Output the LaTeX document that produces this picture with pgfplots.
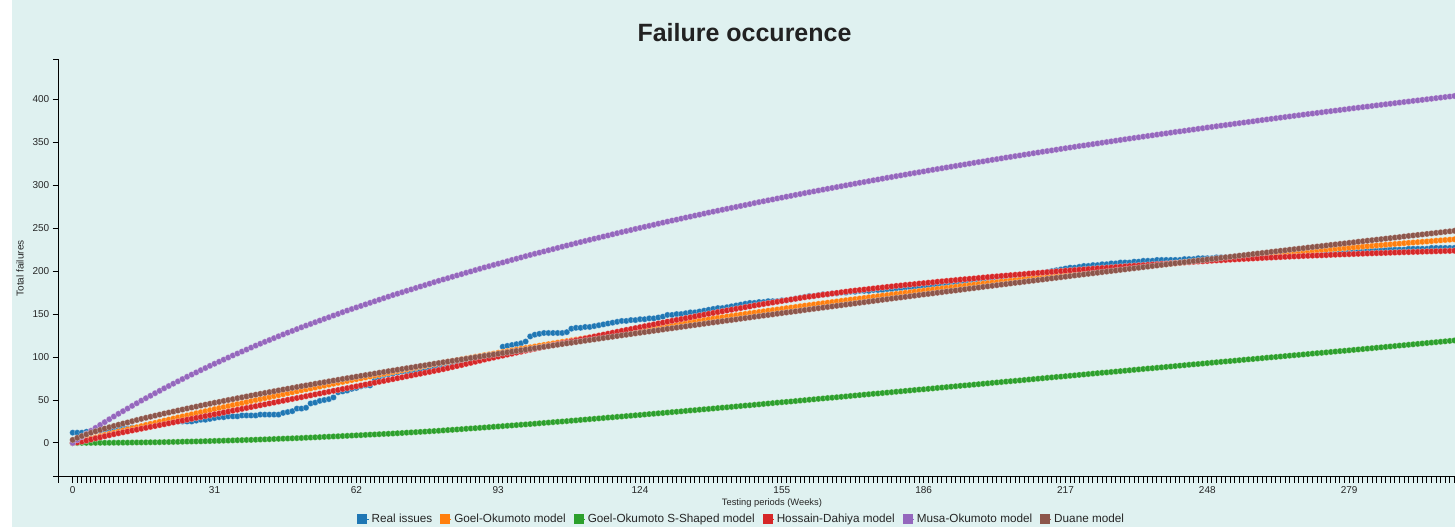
\documentclass[border=0pt]{standalone}
\usepackage{fontspec}
\setmainfont{Liberation Sans}
\usepackage{pgfplots}
\usepackage{pgfplotstable}
\pgfplotsset{compat=1.18}
\definecolor{bg}{RGB}{223,241,240}
\definecolor{c1}{HTML}{1F77B4}
\definecolor{c2}{HTML}{FF7F0E}
\definecolor{c3}{HTML}{2CA02C}
\definecolor{c4}{HTML}{D62728}
\definecolor{c5}{HTML}{9467BD}
\definecolor{c6}{HTML}{8C564B}
\definecolor{txt}{HTML}{222222}
\pgfplotstableread{
t real go gos hd mo du
0 12 0 0 0 0 3.6
1 12 1.3 0 0.6 3.6 6.0
2 12 2.7 0.1 1.6 7.2 8.1
3 13 4.0 0.1 2.8 10.7 10.0
4 13 5.3 0.1 4.1 14.2 11.9
5 14 6.6 0.1 5.4 17.6 13.6
6 14 8.0 0.2 6.6 21.0 15.2
7 15 9.3 0.2 7.8 24.3 16.8
8 15 10.6 0.2 9.0 27.6 18.3
9 16 11.9 0.3 10.2 30.8 19.8
10 16 13.3 0.3 11.3 34.0 21.2
11 17 14.5 0.4 12.4 37.0 22.6
12 17 15.8 0.4 13.4 40.1 23.9
13 18 17.1 0.5 14.5 43.2 25.3
14 18 18.3 0.6 15.5 46.2 26.7
15 19 19.6 0.6 16.6 49.3 28.0
16 21 20.9 0.7 17.6 52.1 29.3
17 22 22.2 0.8 18.7 55.0 30.5
18 22 23.4 0.8 19.7 57.9 31.8
19 23 24.7 0.9 20.8 60.7 33.0
20 24 26.0 1.0 21.8 63.6 34.3
21 24 27.2 1.1 22.9 66.3 35.4
22 25 28.4 1.2 23.9 69.0 36.6
23 25 29.7 1.3 25.0 71.7 37.8
24 25 30.9 1.5 26.0 74.4 38.9
25 25 32.1 1.6 27.1 77.1 40.1
26 25 33.3 1.7 28.1 79.6 41.2
27 26 34.6 1.8 29.2 82.1 42.3
28 27 35.8 1.9 30.2 84.7 43.5
29 27 37.0 2.1 31.3 87.2 44.6
30 28 38.2 2.2 32.3 89.8 45.7
31 29 39.4 2.4 33.4 92.2 46.8
32 30 40.6 2.5 34.4 94.6 47.8
33 30 41.7 2.7 35.5 97.0 48.9
34 31 42.9 2.8 36.5 99.4 50.0
35 31 44.1 3.0 37.6 101.8 51.0
36 31 45.3 3.2 38.6 104.1 52.1
37 32 46.4 3.3 39.7 106.4 53.1
38 32 47.6 3.5 40.7 108.7 54.1
39 32 48.8 3.6 41.8 111.0 55.2
40 32 50.0 3.8 42.8 113.3 56.2
41 33 51.1 4.0 43.9 115.5 57.2
42 33 52.2 4.2 44.9 117.7 58.2
43 33 53.4 4.4 46.0 119.8 59.2
44 33 54.5 4.6 47.0 122.0 60.2
45 33 55.6 4.8 48.1 124.2 61.2
46 35 56.7 5.0 49.1 126.3 62.2
47 36 57.9 5.2 50.2 128.4 63.1
48 37 59.0 5.4 51.2 130.4 64.1
49 40 60.1 5.6 52.3 132.5 65.1
50 40 61.3 5.8 53.3 134.6 66.1
51 41 62.4 6.1 54.4 136.6 67.0
52 46 63.4 6.3 55.4 138.5 67.9
53 47 64.5 6.6 56.5 140.5 68.9
54 49 65.6 6.8 57.5 142.4 69.8
55 50 66.7 7.1 58.6 144.4 70.7
56 51 67.8 7.3 59.6 146.3 71.7
57 53 68.9 7.6 60.7 148.3 72.6
58 59 70.0 7.8 61.7 150.2 73.5
59 60 71.0 8.1 62.8 152.2 74.5
60 61 72.1 8.3 63.8 154.1 75.4
61 63 73.2 8.6 64.9 155.9 76.3
62 64 74.2 8.9 65.9 157.7 77.2
63 66 75.2 9.1 67.0 159.5 78.1
64 67 76.3 9.4 68.0 161.3 79.0
65 67 77.3 9.7 69.1 163.1 79.9
66 73 78.4 9.9 70.1 164.9 80.8
67 77 79.4 10.2 71.2 166.7 81.7
68 79 80.5 10.5 72.2 168.5 82.6
69 80 81.5 10.7 73.3 170.3 83.5
70 81 82.6 11.0 74.3 172.1 84.4
71 82 83.6 11.3 75.4 173.7 85.2
72 83 84.6 11.6 76.4 175.4 86.1
73 83 85.6 12.0 77.5 177.1 87.0
74 84 86.6 12.3 78.5 178.7 87.8
75 84 87.6 12.6 79.6 180.4 88.7
76 85 88.6 12.9 80.6 182.1 89.6
77 86 89.6 13.2 81.7 183.7 90.4
78 87 90.6 13.6 82.7 185.4 91.3
79 88 91.6 13.9 83.8 187.1 92.2
80 89 92.6 14.2 84.8 188.7 93.0
81 90 93.5 14.6 85.9 190.3 93.9
82 91 94.5 15.0 87.1 191.8 94.7
83 92 95.4 15.3 88.3 193.4 95.5
84 93 96.4 15.7 89.5 195.0 96.4
85 94 97.4 16.1 90.7 196.5 97.2
86 95 98.3 16.5 92.0 198.1 98.0
87 96 99.3 16.9 93.2 199.6 98.9
88 97 100.3 17.2 94.5 201.2 99.7
89 99 101.2 17.6 95.7 202.7 100.6
90 100 102.2 18.0 97.0 204.3 101.4
91 101 103.1 18.4 98.2 205.7 102.2
92 103 104.0 18.8 99.3 207.2 103.0
93 104 105.0 19.2 100.5 208.6 103.8
94 112 105.9 19.6 101.6 210.0 104.7
95 113 106.8 20.0 102.8 211.5 105.5
96 114 107.7 20.4 103.9 213.0 106.3
97 115 108.7 20.8 105.1 214.4 107.1
98 116 109.6 21.2 106.2 215.9 107.9
99 118 110.5 21.6 107.4 217.4 108.7
100 124 111.4 22.0 108.5 218.8 109.5
101 126 112.3 22.4 109.6 220.2 110.3
102 127 113.2 22.9 110.7 221.5 111.1
103 128 114.1 23.3 111.8 222.9 111.9
104 128 115.0 23.7 112.9 224.3 112.7
105 128 115.9 24.2 114.0 225.6 113.5
106 128 116.8 24.6 115.1 227.0 114.3
107 128 117.7 25.0 116.2 228.4 115.1
108 129 118.5 25.4 117.3 229.8 115.9
109 133 119.4 25.9 118.4 231.1 116.6
110 134 120.3 26.3 119.5 232.5 117.4
111 134 121.2 26.8 120.6 233.8 118.2
112 135 122.0 27.2 121.7 235.1 119.0
113 135 122.9 27.7 122.8 236.4 119.8
114 136 123.7 28.1 123.9 237.7 120.5
115 137 124.6 28.6 125.0 238.9 121.3
116 138 125.4 29.0 126.1 240.2 122.1
117 139 126.3 29.5 127.2 241.5 122.9
118 140 127.1 29.9 128.3 242.8 123.6
119 141 128.0 30.4 129.4 244.1 124.4
120 142 128.9 30.8 130.5 245.4 125.2
121 142 129.7 31.3 131.6 246.6 125.9
122 143 130.5 31.7 132.6 247.8 126.7
123 143 131.3 32.2 133.7 249.1 127.5
124 144 132.1 32.6 134.8 250.3 128.2
125 144 133.0 33.1 135.9 251.5 129.0
126 145 133.8 33.6 136.9 252.7 129.7
127 145 134.6 34.0 138.0 253.9 130.5
128 146 135.4 34.5 139.1 255.2 131.2
129 147 136.2 34.9 140.1 256.4 132.0
130 149 137.1 35.4 141.2 257.6 132.8
131 149 137.8 35.9 142.2 258.8 133.5
132 150 138.6 36.3 143.2 259.9 134.2
133 150 139.4 36.8 144.2 261.1 135.0
134 151 140.2 37.3 145.2 262.3 135.7
135 152 141.0 37.8 146.2 263.4 136.5
136 152 141.8 38.2 147.3 264.6 137.2
137 153 142.6 38.7 148.3 265.7 138.0
138 154 143.4 39.2 149.3 266.9 138.7
139 155 144.1 39.6 150.3 268.1 139.5
140 156 144.9 40.1 151.3 269.2 140.2
141 157 145.7 40.6 152.3 270.3 140.9
142 157 146.4 41.1 153.2 271.4 141.7
143 158 147.2 41.5 154.2 272.5 142.4
144 159 147.9 42.0 155.1 273.6 143.1
145 160 148.7 42.5 156.1 274.7 143.8
146 161 149.5 43.0 157.0 275.8 144.6
147 162 150.2 43.5 158.0 276.9 145.3
148 163 151.0 43.9 158.9 278.0 146.0
149 163 151.7 44.4 159.9 279.2 146.8
150 164 152.5 44.9 160.8 280.3 147.5
151 164 153.2 45.4 161.7 281.3 148.2
152 165 154.0 45.9 162.6 282.4 148.9
153 165 154.7 46.4 163.4 283.4 149.6
154 165 155.4 46.9 164.3 284.5 150.4
155 166 156.1 47.4 165.2 285.5 151.1
156 166 156.9 47.8 166.1 286.6 151.8
157 167 157.6 48.3 167.0 287.6 152.5
158 168 158.3 48.8 167.8 288.7 153.2
159 169 159.1 49.3 168.7 289.7 153.9
160 170 159.8 49.8 169.6 290.8 154.7
161 171 160.5 50.3 170.3 291.8 155.4
162 171 161.2 50.8 171.0 292.8 156.1
163 172 161.9 51.3 171.8 293.8 156.8
164 173 162.6 51.8 172.5 294.8 157.5
165 173 163.3 52.3 173.2 295.8 158.2
166 174 164.0 52.7 173.9 296.8 158.9
167 174 164.7 53.2 174.6 297.8 159.6
168 175 165.4 53.7 175.4 298.8 160.3
169 175 166.1 54.2 176.1 299.8 161.0
170 176 166.8 54.7 176.8 300.8 161.7
171 176 167.4 55.2 177.4 301.8 162.4
172 177 168.1 55.7 178.0 302.8 163.1
173 177 168.8 56.2 178.6 303.7 163.8
174 177 169.5 56.7 179.2 304.7 164.5
175 178 170.1 57.2 179.8 305.7 165.2
176 178 170.8 57.6 180.4 306.6 165.9
177 178 171.5 58.1 181.0 307.6 166.6
178 179 172.1 58.6 181.6 308.6 167.3
179 179 172.8 59.1 182.2 309.5 168.0
180 180 173.5 59.6 182.8 310.5 168.7
181 180 174.1 60.1 183.3 311.4 169.3
182 181 174.8 60.6 183.9 312.3 170.0
183 181 175.4 61.1 184.4 313.3 170.7
184 181 176.1 61.6 184.9 314.2 171.4
185 182 176.7 62.1 185.5 315.1 172.1
186 182 177.3 62.5 186.0 316.0 172.8
187 183 178.0 63.0 186.5 317.0 173.4
188 183 178.6 63.5 187.0 317.9 174.1
189 184 179.3 64.0 187.6 318.8 174.8
190 184 179.9 64.5 188.1 319.7 175.5
191 184 180.5 65.0 188.6 320.6 176.2
192 185 181.2 65.5 189.1 321.5 176.9
193 185 181.8 66.0 189.6 322.4 177.5
194 186 182.4 66.5 190.1 323.3 178.2
195 186 183.0 67.0 190.6 324.2 178.9
196 187 183.6 67.4 191.0 325.1 179.6
197 187 184.3 67.9 191.5 326.0 180.2
198 188 184.9 68.4 192.0 326.9 180.9
199 188 185.5 68.9 192.5 327.7 181.6
200 189 186.1 69.4 193.0 328.6 182.3
201 189 186.7 69.9 193.5 329.5 182.9
202 190 187.3 70.4 193.9 330.3 183.6
203 190 187.9 70.9 194.4 331.2 184.3
204 191 188.5 71.4 194.8 332.1 184.9
205 191 189.1 71.9 195.3 332.9 185.6
206 192 189.7 72.3 195.7 333.8 186.3
207 192 190.3 72.8 196.2 334.6 186.9
208 193 190.9 73.3 196.6 335.5 187.6
209 194 191.5 73.8 197.1 336.3 188.3
210 194 192.1 74.3 197.5 337.2 188.9
211 196 192.7 74.8 197.9 338.0 189.6
212 197 193.2 75.3 198.3 338.9 190.2
213 199 193.8 75.8 198.7 339.7 190.9
214 200 194.4 76.3 199.1 340.5 191.6
215 201 194.9 76.8 199.6 341.3 192.2
216 202 195.5 77.2 200.0 342.2 192.9
217 203 196.1 77.7 200.4 343.0 193.5
218 204 196.7 78.2 200.8 343.8 194.2
219 204 197.2 78.7 201.2 344.6 194.9
220 205 197.8 79.2 201.6 345.5 195.5
221 206 198.4 79.7 202.0 346.2 196.2
222 206 198.9 80.2 202.4 347.0 196.8
223 207 199.5 80.7 202.8 347.8 197.5
224 207 200.0 81.2 203.2 348.6 198.1
225 208 200.6 81.7 203.6 349.4 198.8
226 208 201.1 82.1 203.9 350.2 199.4
227 209 201.7 82.6 204.3 351.0 200.1
228 209 202.2 83.1 204.7 351.8 200.7
229 210 202.8 83.6 205.1 352.6 201.4
230 210 203.3 84.1 205.5 353.4 202.0
231 210 203.8 84.6 205.9 354.2 202.7
232 211 204.4 85.1 206.2 355.0 203.3
233 211 204.9 85.6 206.6 355.7 203.9
234 212 205.4 86.1 206.9 356.5 204.6
235 212 205.9 86.6 207.3 357.3 205.2
236 212 206.5 87.0 207.7 358.0 205.9
237 213 207.0 87.5 208.0 358.8 206.5
238 213 207.5 88.0 208.4 359.6 207.2
239 213 208.1 88.5 208.7 360.3 207.8
240 213 208.6 89.0 209.1 361.1 208.5
241 213 209.1 89.5 209.4 361.9 209.1
242 213 209.6 90.0 209.8 362.6 209.7
243 214 210.1 90.5 210.1 363.3 210.4
244 214 210.6 91.0 210.4 364.1 211.0
245 214 211.1 91.5 210.8 364.8 211.7
246 215 211.6 91.9 211.1 365.6 212.3
247 215 212.1 92.4 211.4 366.3 212.9
248 215 212.6 92.9 211.7 367.1 213.6
249 215 213.2 93.4 212.1 367.8 214.2
250 216 213.7 93.9 212.4 368.6 214.8
251 216 214.1 94.4 212.7 369.3 215.5
252 216 214.6 94.9 213.0 370.0 216.1
253 216 215.1 95.3 213.3 370.7 216.7
254 217 215.6 95.8 213.6 371.5 217.3
255 217 216.1 96.3 213.9 372.2 218.0
256 217 216.6 96.8 214.2 372.9 218.6
257 217 217.1 97.3 214.4 373.6 219.2
258 217 217.6 97.7 214.7 374.3 219.9
259 218 218.0 98.2 215.0 375.1 220.5
260 218 218.5 98.7 215.3 375.8 221.1
261 218 219.0 99.2 215.6 376.5 221.7
262 218 219.5 99.7 215.8 377.2 222.4
263 218 219.9 100.1 216.1 377.9 223.0
264 219 220.4 100.6 216.3 378.6 223.6
265 219 220.9 101.1 216.6 379.3 224.2
266 219 221.3 101.6 216.8 380.0 224.9
267 220 221.8 102.1 217.1 380.7 225.5
268 220 222.3 102.5 217.3 381.4 226.1
269 220 222.8 103.0 217.6 382.1 226.7
270 220 223.2 103.5 217.8 382.8 227.4
271 221 223.7 104.0 218.0 383.4 228.0
272 221 224.1 104.5 218.2 384.1 228.6
273 221 224.6 104.9 218.4 384.8 229.2
274 221 225.0 105.4 218.6 385.5 229.8
275 222 225.5 105.9 218.9 386.2 230.5
276 222 225.9 106.4 219.1 386.8 231.1
277 222 226.4 106.9 219.3 387.5 231.7
278 222 226.8 107.3 219.5 388.2 232.3
279 223 227.3 107.8 219.7 388.9 232.9
280 223 227.7 108.3 219.9 389.6 233.5
281 223 228.1 108.8 220.1 390.2 234.2
282 223 228.6 109.3 220.3 390.9 234.8
283 224 229.0 109.8 220.5 391.5 235.4
284 224 229.4 110.3 220.7 392.2 236.0
285 224 229.9 110.8 220.9 392.9 236.6
286 224 230.3 111.3 221.0 393.5 237.2
287 225 230.7 111.8 221.2 394.2 237.8
288 225 231.2 112.3 221.4 394.8 238.4
289 225 231.6 112.8 221.6 395.5 239.0
290 225 232.0 113.3 221.8 396.1 239.6
291 225 232.5 113.8 222.0 396.8 240.3
292 226 232.9 114.3 222.1 397.4 240.9
293 226 233.3 114.8 222.3 398.1 241.5
294 226 233.7 115.3 222.4 398.7 242.1
295 226 234.1 115.8 222.6 399.3 242.7
296 226 234.5 116.3 222.8 400.0 243.3
297 227 234.9 116.8 222.9 400.6 243.9
298 227 235.4 117.3 223.1 401.3 244.5
299 227 235.8 117.8 223.2 401.9 245.1
300 227 236.2 118.3 223.4 402.6 245.7
301 227 236.6 118.8 223.5 403.2 246.3
302 227 237.0 119.3 223.7 403.8 246.9
}\data

\begin{document}
\begin{tikzpicture}
\useasboundingbox (-44.025pt,-37.5pt) rectangle (1047.225pt,357.75pt);
\fill[bg] (-35.025pt,-37.5pt) rectangle (1047.225pt,357.75pt);
\begin{axis}[
  scale only axis,
  width=1047.225pt, height=312.75pt,
  xmin=-3.06, xmax=302.14, ymin=-39.6, ymax=445.7,
  axis lines=left,
  axis line style={-, line width=0.75pt, black},
  tick align=outside,
  xtick={0,31,...,279},
  minor xtick={0,...,302},
  ytick={0,50,...,400},
  major tick length=4.5pt, minor tick length=4.5pt,
  tick style={black, line width=0.75pt},
  /pgf/number format/assume math mode=true,
  ticklabel style={font=\fontsize{7.5}{9}\selectfont, text=black!85, inner sep=0pt},
  xticklabel style={anchor=north, yshift=-2.4pt},
  yticklabel style={anchor=east, xshift=-2.4pt},
  xlabel={Testing periods (Weeks)},
  ylabel={Total failures},
  every axis x label/.style={at={(axis description cs:0.5108,-0.0624)}, anchor=center, font=\fontsize{7}{8}\selectfont, text=black!85},
  every axis y label/.style={at={(axis description cs:-0.02772,0.5)}, rotate=90, anchor=center, font=\fontsize{7.5}{9}\selectfont, text=black!85},
  legend columns=-1,
  legend style={at={(axis description cs:0.4894,-0.1007)}, anchor=center, draw=none, fill=none,
    font=\fontsize{8.8}{10}\selectfont, text=black!85,
    /tikz/every even column/.append style={column sep=3.8pt}},
  legend image code/.code={\fill (0pt,-3.4pt) rectangle (6.8pt,3.4pt); \path (0pt,0pt) -- (8.3pt,0pt);},
  every axis plot/.append style={only marks, mark=*, mark size=2.35pt, mark options={draw=white, draw opacity=0.35, line width=0.45pt}},
]
\addplot[color=c1] table[x=t,y=real]{\data};
\addlegendentry{Real issues}
\addplot[color=c2] table[x=t,y=go]{\data};
\addlegendentry{Goel-Okumoto model}
\addplot[color=c3] table[x=t,y=gos]{\data};
\addlegendentry{Goel-Okumoto S-Shaped model}
\addplot[color=c4] table[x=t,y=hd]{\data};
\addlegendentry{Hossain-Dahiya model}
\addplot[color=c5] table[x=t,y=mo]{\data};
\addlegendentry{Musa-Okumoto model}
\addplot[color=c6] table[x=t,y=du]{\data};
\addlegendentry{Duane model}
\end{axis}
\draw[line width=0.75pt] (0pt,312.75pt) -- (-4.5pt,312.75pt);
\draw[line width=0.75pt] (0pt,0pt) -- (-4.5pt,0pt);
\draw[line width=0.75pt] (0pt,0pt) -- (0pt,-4.5pt);
\node[anchor=base, font=\fontsize{18.75}{22}\selectfont\bfseries, text=txt] at (514.35pt,326.25pt) {Failure occurence};
\end{tikzpicture}
\end{document}
